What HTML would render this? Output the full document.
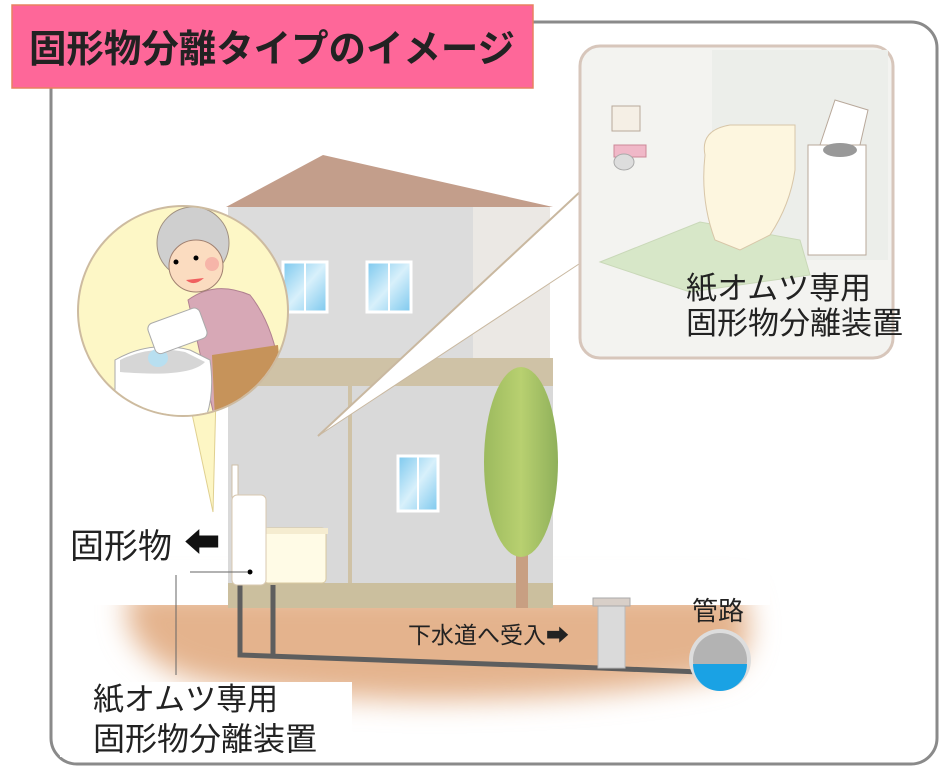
<!DOCTYPE html>
<html><head><meta charset="utf-8"><style>
body{margin:0;background:#fff;}
svg{display:block;}
text{font-family:"Liberation Sans","Noto Sans CJK JP",sans-serif;}
</style></head><body>
<svg width="946" height="783" viewBox="0 0 946 783" xmlns="http://www.w3.org/2000/svg">
<defs>
<linearGradient id="tree" x1="0" x2="1"><stop offset="0" stop-color="#9cba5e"/><stop offset="0.5" stop-color="#b8d070"/><stop offset="1" stop-color="#8fb05a"/></linearGradient>
<linearGradient id="win" x1="0" y1="0" x2="1" y2="1"><stop offset="0" stop-color="#7cc8ee"/><stop offset="0.5" stop-color="#d8f0fb"/><stop offset="1" stop-color="#7cc8ee"/></linearGradient>
<filter id="blur" x="-20%" y="-50%" width="140%" height="200%"><feGaussianBlur stdDeviation="14"/></filter>
<clipPath id="circ"><circle cx="183" cy="311" r="104"/></clipPath>
</defs>
<!-- frame -->
<rect x="51" y="22" width="886" height="742" rx="26" fill="#fff" stroke="#8a8a8a" stroke-width="3"/>
<!-- ground -->
<g filter="url(#blur)">
<path d="M130,590 L740,590 Q765,650 720,675 Q600,700 420,700 Q220,695 170,670 Q115,640 130,590Z" fill="#e4b38d"/>
</g>
<rect x="90" y="560" width="680" height="45" fill="#fff"/>
<rect x="60" y="682" width="292" height="75" fill="#fff"/>
<!-- house -->
<polygon points="226,207 323,155 553,207" fill="#c39e8b"/>
<rect x="228" y="207" width="322" height="155" fill="#dcdcdc"/>
<rect x="473" y="207" width="77" height="155" fill="#ebe8e4"/>
<rect x="228" y="358" width="325" height="28" fill="#cfc2a6"/>
<rect x="228" y="386" width="325" height="200" fill="#d9d9d9"/>
<rect x="348" y="386" width="4" height="200" fill="#cfc2a6"/>
<rect x="228" y="583" width="325" height="25" fill="#cbbf9e"/>
<rect x="283" y="262" width="44" height="50" fill="url(#win)" stroke="#fff" stroke-width="3"/>
<line x1="305" y1="262" x2="305" y2="312" stroke="#fff" stroke-width="2"/>
<rect x="367" y="262" width="44" height="50" fill="url(#win)" stroke="#fff" stroke-width="3"/>
<line x1="389" y1="262" x2="389" y2="312" stroke="#fff" stroke-width="2"/>
<rect x="398" y="456" width="40" height="55" fill="url(#win)" stroke="#fff" stroke-width="3"/>
<line x1="418" y1="456" x2="418" y2="511" stroke="#fff" stroke-width="2"/>
<!-- tree -->
<rect x="516" y="545" width="12" height="63" fill="#c89f82"/>
<ellipse cx="521" cy="462" rx="37" ry="95" fill="url(#tree)"/>
<!-- pipes -->
<polyline points="240,585 240,655 600,668 700,672" fill="none" stroke="#5e5e5e" stroke-width="5"/>
<line x1="273" y1="585" x2="273" y2="655" stroke="#5e5e5e" stroke-width="5"/>
<rect x="598" y="603" width="27" height="65" fill="#dadada" stroke="#bbb"/>
<rect x="593" y="598" width="37" height="8" fill="#d8cfc8" stroke="#aaa"/>
<!-- sewer pipe -->
<circle cx="720" cy="660" r="31" fill="#ddd"/>
<circle cx="720" cy="660" r="27" fill="#b3b3b3"/>
<path d="M693,664 A27,27 0 0 0 747,664 Z" fill="#1aa2e4"/>
<!-- toilet -->
<rect x="232" y="465" width="6" height="32" fill="#fff" stroke="#cfc0a8"/>
<rect x="264" y="528" width="62" height="55" rx="4" fill="#fffbe6" stroke="#d8c8a0"/>
<rect x="262" y="528" width="66" height="6" fill="#f5ecd0"/>
<rect x="232" y="495" width="34" height="90" rx="5" fill="#fff" stroke="#d8c8b0"/>
<circle cx="250" cy="572" r="2.5" fill="#000"/>
<line x1="190" y1="572" x2="248" y2="572" stroke="#666" stroke-width="1"/>
<line x1="176" y1="575" x2="176" y2="675" stroke="#666" stroke-width="1"/>
<!-- speech from inset -->
<polygon points="582,190 318,436 582,262" fill="#fff"/>
<line x1="582" y1="190" x2="318" y2="436" stroke="#c9b8a0" stroke-width="2"/>
<line x1="582" y1="262" x2="318" y2="436" stroke="#c9b8a0" stroke-width="1"/>
<!-- inset panel -->
<rect x="580" y="46" width="313" height="312" rx="20" fill="#f3f3f0" stroke="#d7c6bb" stroke-width="3"/>
<rect x="712" y="50" width="176" height="210" fill="#eceeea"/>
<polygon points="600,262 700,222 800,240 810,275 690,292" fill="#d7e7c8" stroke="#c9d8b8"/>
<rect x="808" y="145" width="58" height="110" fill="#fff" stroke="#b8a89a"/>
<polygon points="820,145 835,100 868,110 860,145" fill="#fff" stroke="#b8a89a"/>
<ellipse cx="840" cy="150" rx="17" ry="7" fill="#999"/>
<path d="M705,155 Q700,130 730,125 L795,125 L795,170 Q790,205 770,235 L740,250 L715,240 Q700,200 705,155Z" fill="#fdf6df" stroke="#d8c6a8"/>
<rect x="612" y="106" width="28" height="25" fill="#f5efe5" stroke="#b8a89a"/>
<rect x="614" y="145" width="32" height="12" fill="#f0b8c8" stroke="#c89"/>
<ellipse cx="624" cy="162" rx="10" ry="8" fill="#ddd" stroke="#aaa"/>
<text x="686" y="299" font-size="31" fill="#222">紙オムツ専用</text>
<text x="686" y="334" font-size="31" fill="#222">固形物分離装置</text>
<!-- grandma circle -->
<polygon points="188,395 216,395 213,512" fill="#fdf6c4" stroke="#e0d090"/>
<circle cx="183" cy="311" r="105" fill="#fdf7c6" stroke="#cdbba0" stroke-width="2"/>
<g clip-path="url(#circ)">
<path d="M188,300 Q215,280 250,295 Q270,320 278,360 L280,420 L215,420 Z" fill="#d7a8b6" stroke="#b08090"/>
<path d="M212,355 L278,345 L285,420 L215,420 Z" fill="#c6935a"/>
<circle cx="193" cy="243" r="36" fill="#cfcfcf" stroke="#a09080"/>
<ellipse cx="196" cy="266" rx="27" ry="26" fill="#fbdcc0" stroke="#a08070"/>
<circle cx="212" cy="264" r="7" fill="#f3a4a0" opacity="0.7"/>
<circle cx="176" cy="262" r="2.5" fill="#000"/><circle cx="196" cy="258" r="2.5" fill="#000"/>
<path d="M186,280 Q194,287 204,278 Z" fill="#f06060"/>
<path d="M115,360 Q150,340 190,350 L210,360 Q215,395 205,420 L115,420 Z" fill="#fff" stroke="#aaa"/>
<path d="M120,360 Q150,345 185,352 L205,362 Q190,378 120,372 Z" fill="#d6d6d6"/>
<ellipse cx="158" cy="358" rx="10" ry="9" fill="#b8dff0"/>
<rect x="150" y="315" width="55" height="32" rx="6" fill="#fff" stroke="#aaa" transform="rotate(-20 177 331)"/>
</g>
<!-- title -->
<rect x="12" y="5" width="521" height="83" fill="#fe6799" stroke="#e88060" stroke-width="1.5"/>
<text x="29" y="62" font-size="38" font-weight="bold" fill="#222" textLength="486" lengthAdjust="spacingAndGlyphs">固形物分離タイプのイメージ</text>
<!-- labels -->
<text x="70" y="558" font-size="34" fill="#222">固形物</text>
<text x="184" y="555" font-size="36" fill="#111">⬅</text>
<text x="408" y="643" font-size="23" fill="#222">下水道へ受入➡</text>
<text x="692" y="620" font-size="26" fill="#222">管路</text>
<text x="93" y="710" font-size="31" fill="#222">紙オムツ専用</text>
<text x="93" y="750" font-size="32" fill="#222">固形物分離装置</text>
</svg>
</body></html>
